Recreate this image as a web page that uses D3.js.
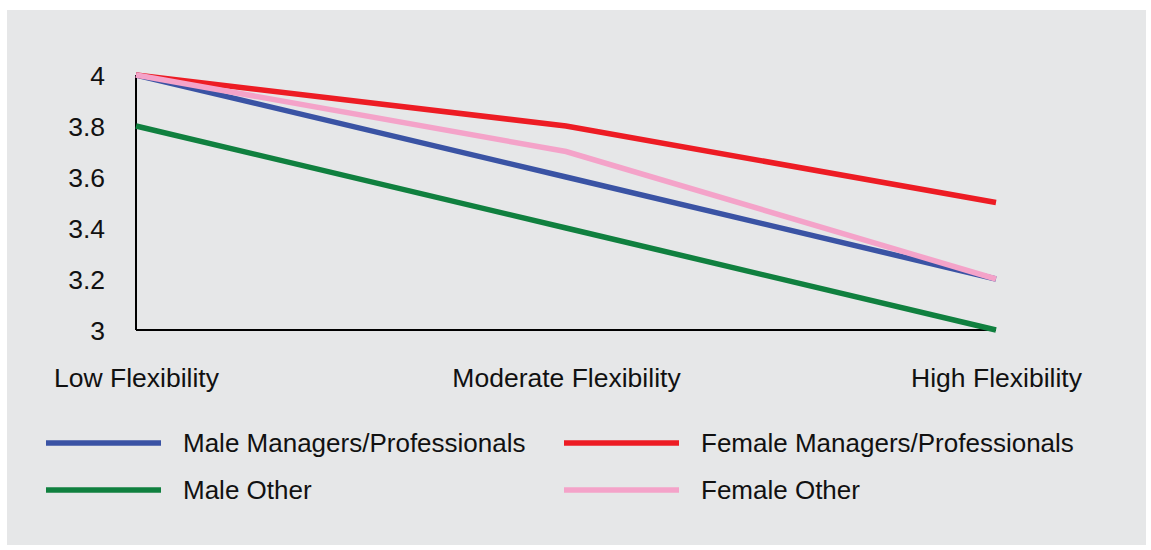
<!DOCTYPE html>
<html><head><meta charset="utf-8">
<script src="https://cdn.jsdelivr.net/npm/d3@7"></script>
<style>body{margin:0;background:#fff;}svg{display:block;}text{font-family:"Liberation Sans",Arial,sans-serif;fill:#111;}</style>
</head><body>
<svg id="c" width="1151" height="550"></svg>
<script>
const categories = ["Low Flexibility", "Moderate Flexibility", "High Flexibility"];
const seriesNames = ["Male Managers/Professionals", "Female Managers/Professionals", "Male Other", "Female Other"];
const maleManagers = [4.0, 3.6, 3.2];
const femaleManagers = [4.0, 3.8, 3.5];
const maleOther = [3.8, 3.4, 3.0];
const femaleOther = [4.0, 3.7, 3.2];
const yTicks = [3, 3.2, 3.4, 3.6, 3.8, 4];
const colors = ["#3a53a4", "#ed1c24", "#10803f", "#f4a3c9"];

const series = [
  {name: seriesNames[0], values: maleManagers, color: colors[0]},
  {name: seriesNames[1], values: femaleManagers, color: colors[1]},
  {name: seriesNames[2], values: maleOther, color: colors[2]},
  {name: seriesNames[3], values: femaleOther, color: colors[3]}
];

const svg = d3.select("#c");
svg.append("rect").attr("x", 7).attr("y", 10).attr("width", 1139).attr("height", 535).attr("fill", "#e6e7e8");

const x = d3.scalePoint().domain(categories).range([136, 996]);
const y = d3.scaleLinear().domain([3, 4]).range([330, 75]);

// y axis
const yAxis = svg.append("g").attr("transform", "translate(136,0)")
  .call(d3.axisLeft(y).tickValues(yTicks).tickSize(0).tickPadding(31).tickFormat(d3.format("~g")));
yAxis.select(".domain").attr("stroke", "#000").attr("stroke-width", 2).attr("d", "M0," + y(4) + "V" + y(3));
yAxis.selectAll("text").attr("font-size", 26.5).attr("font-family", "Liberation Sans, Arial, sans-serif").attr("fill", "#111").attr("dy", "0.35em");

// x axis
const xAxis = svg.append("g").attr("transform", "translate(0,330)")
  .call(d3.axisBottom(x).tickSize(0).tickPadding(38));
xAxis.select(".domain").attr("stroke", "#000").attr("stroke-width", 2).attr("d", "M136,0H996");
xAxis.selectAll("text").attr("font-size", 26.5).attr("font-family", "Liberation Sans, Arial, sans-serif").attr("fill", "#111");

const line = d3.line().x((d, i) => x(categories[i])).y(d => y(d));
[0, 1, 2, 3].forEach(i => {
  svg.append("path").datum(series[i].values).attr("d", line)
    .attr("fill", "none").attr("stroke", series[i].color).attr("stroke-width", 5.5)
    .attr("stroke-linejoin", "miter");
});

// legend
const legendPos = [[46, 443], [564, 443], [46, 490], [564, 490]];
series.forEach((s, i) => {
  const [lx, ly] = legendPos[i];
  svg.append("line").attr("x1", lx).attr("x2", lx + 115).attr("y1", ly).attr("y2", ly)
    .attr("stroke", s.color).attr("stroke-width", 5.5);
  svg.append("text").attr("x", lx + 137).attr("y", ly).attr("dy", "0.35em")
    .attr("font-size", 26).text(s.name);
});
</script>
</body></html>
